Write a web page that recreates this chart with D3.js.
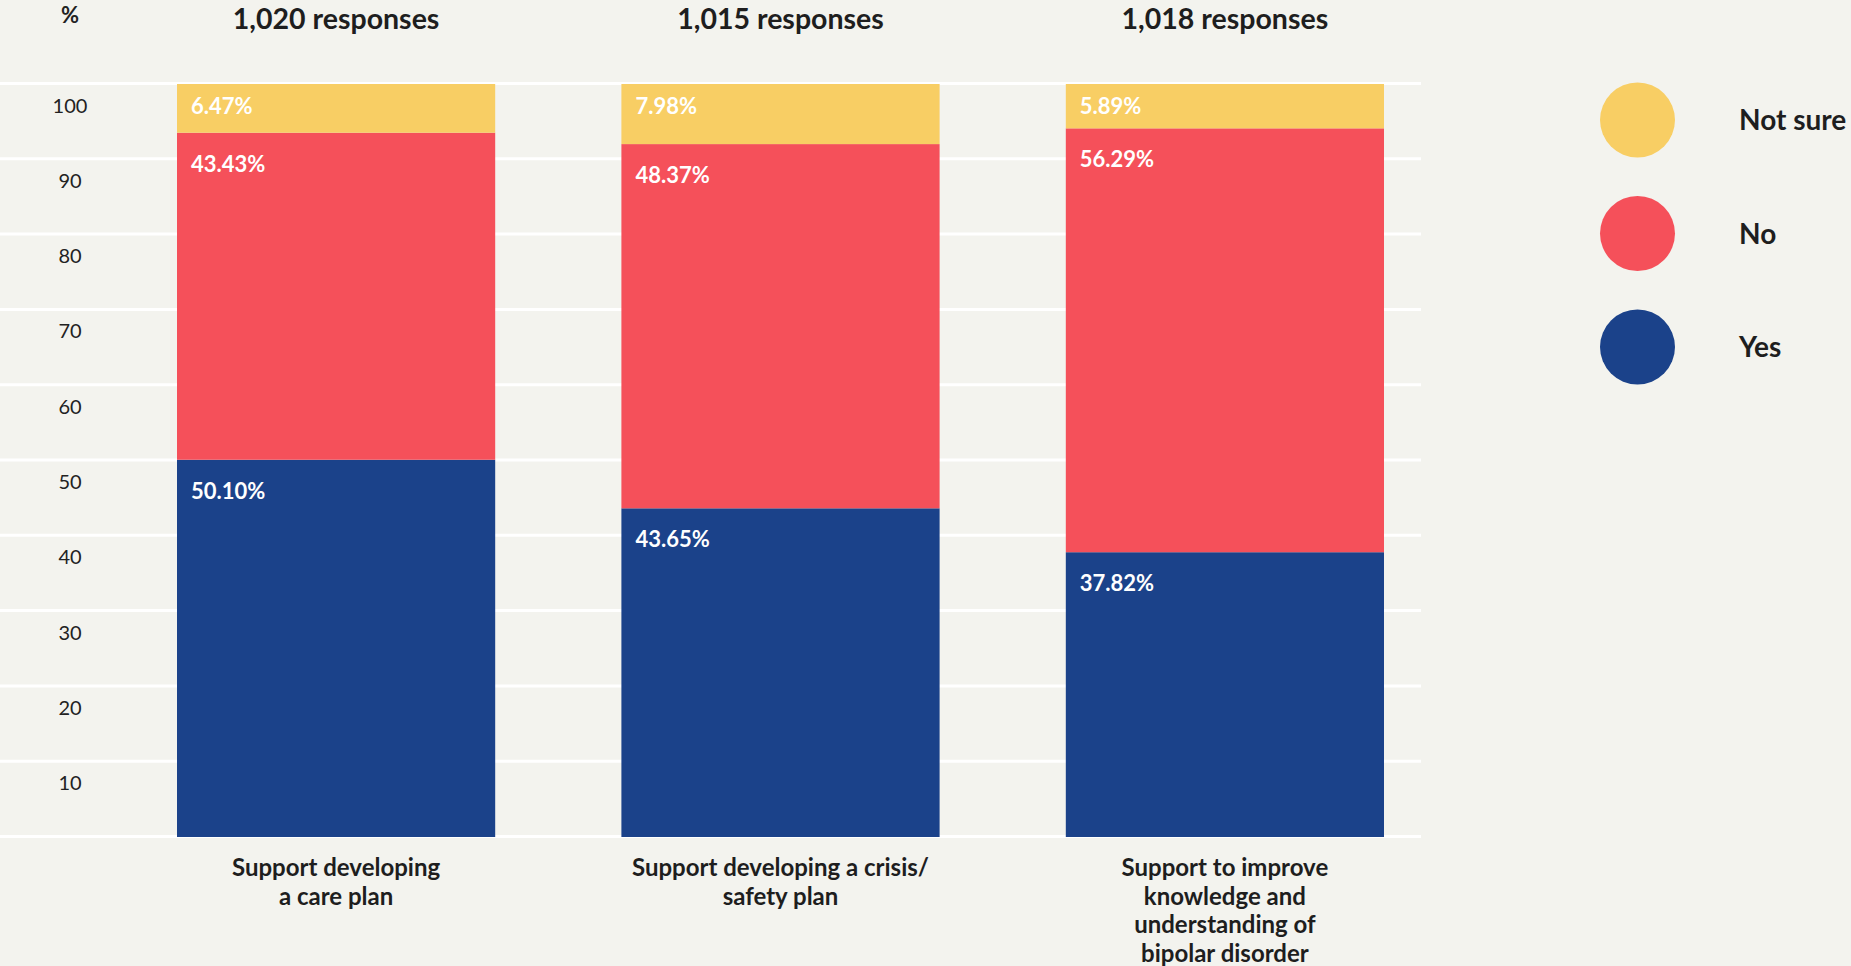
<!DOCTYPE html>
<html>
<head>
<meta charset="utf-8">
<script src="https://cdn.jsdelivr.net/npm/d3@7"></script>
<style>
  html, body { margin: 0; padding: 0; background: #f3f3ee; }
  svg { display: block; font-family: Lato, "Noto Sans", sans-serif; }
</style>
</head>
<body>
<svg id="chart" width="1851" height="966"></svg>
<script>
// Survey answers per kind of support (percent of responses)
const categories = [
  "Support developing\na care plan",
  "Support developing a crisis/\nsafety plan",
  "Support to improve\nknowledge and\nunderstanding of\nbipolar disorder"
];
const responseCounts = ["1,020 responses", "1,015 responses", "1,018 responses"];
const yesValues     = [50.10, 43.65, 37.82];
const noValues      = [43.43, 48.37, 56.29];
const notSureValues = [6.47, 7.98, 5.89];
const seriesKeys    = ["Yes", "No", "Not sure"];
const legendOrder   = ["Not sure", "No", "Yes"];
const yTickValues   = [0, 10, 20, 30, 40, 50, 60, 70, 80, 90, 100];
const yAxisUnit     = "%";

const colors = { "Yes": "#1b428a", "No": "#f5505a", "Not sure": "#f8ce64" };

const rows = categories.map((c, i) => ({
  category: c,
  "Yes": yesValues[i],
  "No": noValues[i],
  "Not sure": notSureValues[i]
}));

const svg = d3.select("#chart");
const W = 1851, H = 966;

svg.append("rect").attr("width", W).attr("height", H).attr("fill", "#f3f3ee");

const x = d3.scaleBand()
  .domain(categories)
  .range([177, 1384])
  .paddingInner(0.284)
  .paddingOuter(0);

const y = d3.scaleLinear().domain([0, 100]).range([837, 84]);

// Gridlines and tick labels
const gridRight = 1421;
const axis = d3.axisRight(y)
  .tickValues(yTickValues)
  .tickSize(gridRight)
  .tickFormat(d => d === 0 ? "" : d);

const gAxis = svg.append("g").call(axis);
gAxis.select(".domain").remove();
gAxis.selectAll(".tick line")
  .attr("stroke", "#ffffff")
  .attr("stroke-width", 3)
  .attr("transform", "translate(0,-1)");
gAxis.selectAll(".tick text")
  .attr("x", 70)
  .attr("dy", 0)
  .attr("y", 28)
  .attr("text-anchor", "middle")
  .attr("fill", "#222222")
  .attr("font-family", "Lato, 'Noto Sans', sans-serif")
  .attr("font-size", 20);

svg.append("text")
  .attr("x", 70).attr("y", 23)
  .attr("text-anchor", "middle")
  .attr("font-size", 22).attr("font-weight", 700)
  .attr("fill", "#222222")
  .text(yAxisUnit);

// Stacked bars
const stacked = d3.stack().keys(seriesKeys)(rows);

const layers = svg.append("g").selectAll("g")
  .data(stacked)
  .join("g")
  .attr("fill", d => colors[d.key]);

layers.selectAll("rect")
  .data(d => d.map(s => ({ key: d.key, s })))
  .join("rect")
  .attr("x", d => x(d.s.data.category))
  .attr("width", x.bandwidth())
  .attr("y", d => y(d.s[1]))
  .attr("height", d => y(d.s[0]) - y(d.s[1]));

// Value labels inside each segment, near its top
layers.selectAll("text")
  .data(d => d.map(s => ({ key: d.key, s })))
  .join("text")
  .attr("x", d => x(d.s.data.category) + 14)
  .attr("y", d => {
    const top = y(d.s[1]);
    const h = y(d.s[0]) - top;
    return top + (h < 100 ? 30 : 39);
  })
  .attr("fill", "#ffffff")
  .attr("font-size", 22)
  .attr("font-weight", 700)
  .text(d => d3.format(".2f")(d.s[1] - d.s[0]) + "%");

// Response count headers
svg.append("g").selectAll("text")
  .data(categories)
  .join("text")
  .attr("x", d => x(d) + x.bandwidth() / 2)
  .attr("y", 28.5)
  .attr("text-anchor", "middle")
  .attr("font-size", 28.5)
  .attr("font-weight", 700)
  .attr("fill", "#1e1e1e")
  .text((d, i) => responseCounts[i]);

// Category labels under the bars
const catLabels = svg.append("g").selectAll("text")
  .data(categories)
  .join("text")
  .attr("x", d => x(d) + x.bandwidth() / 2)
  .attr("y", 876)
  .attr("text-anchor", "middle")
  .attr("font-size", 24)
  .attr("font-weight", 700)
  .attr("fill", "#1e1e1e");

catLabels.each(function(d) {
  const t = d3.select(this);
  const cx = +t.attr("x");
  d.split("\n").forEach((line, i) => {
    t.append("tspan")
      .attr("x", cx)
      .attr("dy", i === 0 ? 0 : 28.5)
      .text(line);
  });
});

// Legend
const legend = svg.append("g").selectAll("g")
  .data(legendOrder)
  .join("g")
  .attr("transform", (d, i) => `translate(1637.5, ${120 + i * 113.5})`);

legend.append("circle")
  .attr("r", 37.5)
  .attr("fill", d => colors[d]);

legend.append("text")
  .attr("x", 101.5)
  .attr("y", 10)
  .attr("font-size", 28)
  .attr("font-weight", 700)
  .attr("fill", "#1e1e1e")
  .text(d => d);
</script>
</body>
</html>
